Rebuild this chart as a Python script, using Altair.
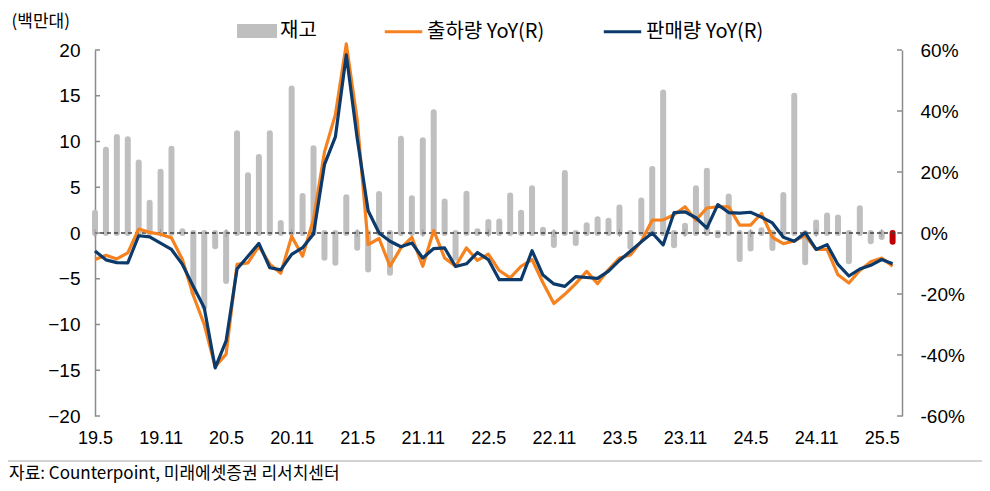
import altair as alt
import pandas as pd

# ---- data ----
months = []
yy, mm = 2019, 5
for _ in range(74):
    months.append(f"{yy % 100}.{mm}")
    mm += 1
    if mm > 12:
        mm = 1
        yy += 1

inventory = [2.2, 9.1, 10.5, 10.25, 7.7, 3.3, 6.7, 9.2, 0.2, -6.5,
             -8.1, -1.45, -5.25, 10.9, 6.3, 8.3, 10.9, 1.1, 15.8, 4.05,
             9.25, -2.7, -3.25, 3.9, -1.6, -4.0, 4.25, -4.35, 10.3, 3.8,
             10.15, 13.2, 3.45, -2.7, 4.3, 0.2, 1.2, 1.25, 4.1, 2.2,
             4.9, 0.35, -1.3, 6.55, -1.1, 0.85, 1.5, 1.35, 2.8, -1.5,
             3.55, 7.0, 15.35, -1.35, 0.8, 4.9, 6.8, -0.25, 4.0, -2.85,
             -1.7, 0.3, -1.65, 4.15, 15.0, -3.2, 1.15, 1.9, 1.7, -3.1,
             2.7, -0.9, -0.45, -0.95]

shipment_yoy = [-8.7, -7.3, -8.5, -6.5, 1.3, 0.2, -0.4, -1.6, -8.7, -20.5,
                -30.0, -43.8, -39.7, -10.3, -9.8, -4.3, -10.2, -13.2, -1.1, -7.6,
                4.5, 26.5, 38.8, 62.0, 37.0, -3.8, -1.8, -10.9, -4.9, -1.4,
                -10.9, 0.8, -8.2, -10.9, -4.9, -9.0, -6.9, -12.3, -14.7, -10.9,
                -8.7, -16.3, -23.1, -20.1, -16.6, -12.6, -16.6, -12.0, -8.2, -7.2,
                -2.7, 4.2, 4.3, 6.0, 8.6, 4.2, 8.2, 8.6, 8.6, 2.6,
                2.6, 6.4, -1.4, -3.5, -2.6, -0.8, -5.4, -5.4, -13.7, -16.4,
                -12.3, -9.4, -8.2, -10.9]

sales_yoy = [-5.9, -8.8, -9.7, -9.8, -0.9, -1.3, -3.3, -5.4, -10.3, -17.5,
             -24.5, -44.2, -35.4, -11.8, -7.6, -3.4, -11.4, -12.1, -7.0, -4.8,
             -0.3, 22.4, 31.5, 58.4, 31.0, 7.3, 0.0, -2.7, -4.5, -3.3,
             -8.2, -5.1, -4.9, -11.0, -10.1, -6.4, -8.7, -15.3, -15.3, -15.3,
             -5.8, -13.8, -16.7, -17.5, -14.3, -14.6, -14.9, -12.5, -9.0, -6.0,
             -2.9, 0.0, -3.9, 6.7, 6.9, 5.0, 1.6, 9.3, 6.7, 6.5,
             6.8, 5.2, 3.3, -1.4, -2.7, 0.1, -5.4, -3.8, -10.3, -14.1,
             -11.8, -10.6, -8.7, -10.1]

tick_labels = ["19.5", "19.11", "20.5", "20.11", "21.5", "21.11", "22.5",
               "22.11", "23.5", "23.11", "24.5", "24.11", "25.5"]
left_ticks = [-20, -15, -10, -5, 0, 5, 10, 15, 20]
right_ticks = [-60, -40, -20, 0, 20, 40, 60]

bar_name = "재고"
latest_name = "최근"
ship_name = "출하량 YoY(R)"
sales_name = "판매량 YoY(R)"
unit_text = "(백만대)"
source = "자료: Counterpoint, 미래에셋증권 리서치센터"

GRAY = "#BFBFBF"
RED = "#C00000"
ORANGE = "#F5821F"
NAVY = "#0B3A6B"
AXIS_GRAY = "#8C8C8C"
NUM_FONT = "Liberation Sans, Arial"
KR_FONT = "Noto Sans CJK KR"

W, H = 807, 366

# ---- tables ----
df = pd.DataFrame({"month": months, "idx": list(range(len(months))),
                   "inv": inventory})
df["kind"] = [bar_name] * (len(df) - 1) + [latest_name]

lines_df = pd.concat([
    pd.DataFrame({"idx": df["idx"], "series": ship_name, "yoy": shipment_yoy}),
    pd.DataFrame({"idx": df["idx"], "series": sales_name, "yoy": sales_yoy}),
])

xticks_df = pd.DataFrame({"idx": [i * 6 for i in range(len(tick_labels))], "z": 0})
lticks_df = pd.DataFrame({"v": left_ticks})
rticks_df = pd.DataFrame({"v": right_ticks})
zero_df = pd.DataFrame({"v": [0]})

label_array = "[" + ",".join(f"'{t}'" for t in tick_labels) + "]"
x_scale = alt.Scale(domain=[0, 73.86], nice=False, zero=False)
x_axis = alt.Axis(values=list(xticks_df["idx"]),
                  labelExpr=f"{label_array}[round(datum.value/6)]",
                  ticks=False, domain=False, grid=False, title=None,
                  labelFlush=False,
                  labelPadding=13, labelFontSize=18, labelFont=NUM_FONT,
                  labelColor="#000000")


def X(field="idx:Q"):
    return alt.X(field, scale=x_scale, axis=x_axis)


left_scale = alt.Scale(domain=[-20, 20], nice=False, zero=False)
right_scale = alt.Scale(domain=[-60, 60], nice=False, zero=False)
left_axis = alt.Axis(values=left_ticks, title=unit_text, titleAngle=0,
                     titleAlign="left", titleBaseline="middle",
                     titleX=-84, titleY=-29, titleFont=KR_FONT,
                     titleFontSize=17, titleFontWeight="normal",
                     titleColor="#000000",
                     ticks=False, grid=False, domainColor=AXIS_GRAY,
                     domainWidth=1.5, labelPadding=15, labelFontSize=19,
                     labelFont=NUM_FONT, labelColor="#000000")
right_axis = alt.Axis(orient="right", values=right_ticks,
                      labelExpr="datum.value + '%'", ticks=False,
                      grid=False, title=None, domainColor=AXIS_GRAY,
                      domainWidth=1.5, labelPadding=18, labelFontSize=19,
                      labelFont=NUM_FONT, labelColor="#000000")


def YL(field):
    return alt.Y(field, scale=left_scale, axis=left_axis)


def YR(field):
    return alt.Y(field, scale=right_scale, axis=right_axis)


bars = alt.Chart(df).mark_rule(strokeWidth=6, strokeCap="round").encode(
    x=X(),
    y=YL("inv:Q"),
    y2=alt.datum(0),
    color=alt.Color("kind:N",
                    scale=alt.Scale(domain=[bar_name, latest_name],
                                    range=[GRAY, RED]),
                    legend=alt.Legend(values=[bar_name], title=None,
                                      orient="none", legendX=142, legendY=-39,
                                      symbolType="M-1,-0.35L1,-0.35L1,0.35L-1,0.35Z",
                                      symbolSize=1600, symbolFillColor=GRAY,
                                      symbolStrokeWidth=0, labelFont=KR_FONT,
                                      labelFontSize=20, labelColor="#000000",
                                      labelOffset=3, padding=0)),
)

zero_line = alt.Chart(zero_df).mark_rule(color="#404040", strokeWidth=1.3,
                                         strokeDash=[4, 3]).encode(
    y=YL("v:Q"),
)

xticks = alt.Chart(xticks_df).mark_tick(orient="vertical", size=8, thickness=1,
                                        color=AXIS_GRAY).encode(
    x=X(),
    y=YL("z:Q"),
)

lticks = alt.Chart(lticks_df).mark_rule(color=AXIS_GRAY, strokeWidth=1.5).encode(
    x=alt.value(0), x2=alt.value(5),
    y=YL("v:Q"),
)

source_rule = alt.Chart(zero_df).mark_rule(color="#A6A6A6", strokeWidth=1).encode(
    x=alt.value(-87), x2=alt.value(W + 80), y=alt.value(H + 45),
)

source_text = alt.Chart(zero_df).mark_text(
    align="left", baseline="middle", font=KR_FONT, fontSize=17,
    color="#000000").encode(
    x=alt.value(-86), y=alt.value(H + 58),
    text=alt.value(source),
)

left_group = alt.layer(bars, zero_line, xticks, lticks, source_rule, source_text)

lines = alt.Chart(lines_df).mark_line(strokeWidth=3.2, strokeJoin="round").encode(
    x=X(),
    y=YR("yoy:Q"),
    color=alt.Color("series:N",
                    scale=alt.Scale(domain=[ship_name, sales_name],
                                    range=[ORANGE, NAVY]),
                    sort=[ship_name, sales_name],
                    legend=alt.Legend(title=None, orient="none",
                                      direction="horizontal",
                                      legendX=288, legendY=-39,
                                      symbolType="stroke", symbolSize=1400,
                                      symbolStrokeWidth=3, labelFont=KR_FONT,
                                      labelFontSize=20, labelColor="#000000",
                                      labelOffset=3, columnPadding=52,
                                      padding=0)),
    order=alt.Order("series:N", sort="ascending"),
)

rticks = alt.Chart(rticks_df).mark_rule(color=AXIS_GRAY, strokeWidth=1.5).encode(
    x=alt.value(W - 5), x2=alt.value(W),
    y=YR("v:Q"),
)

right_group = alt.layer(lines, rticks)

chart = alt.layer(left_group, right_group).resolve_scale(
    y="independent", color="independent"
).properties(
    width=W, height=H,
    autosize=alt.AutoSizeParams(type="none"),
    padding={"left": 87, "top": 42, "right": 80, "bottom": 67},
    background="white",
).configure_view(stroke=None)

chart.save("out.html", embed_options={"renderer": "svg", "actions": False})
